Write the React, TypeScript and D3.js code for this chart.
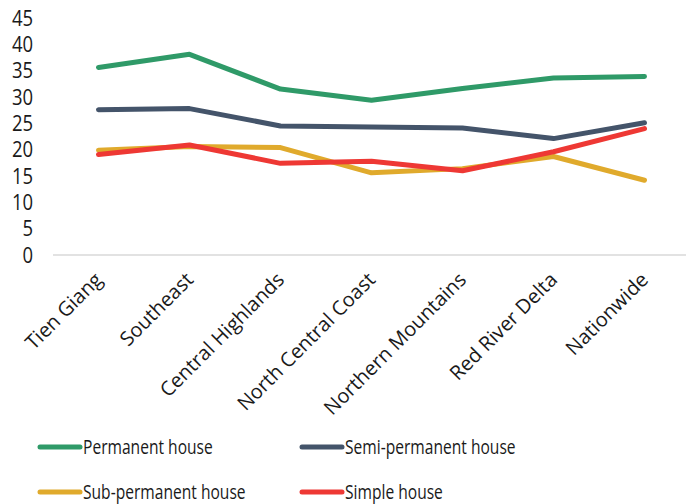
import React from "react";
import * as d3 from "d3";

const categories = [
  "Tien Giang",
  "Southeast",
  "Central Highlands",
  "North Central Coast",
  "Northern Mountains",
  "Red River Delta",
  "Nationwide",
];

const permanent = [35.6, 38.1, 31.5, 29.4, 31.6, 33.6, 33.9];
const semiPermanent = [27.6, 27.8, 24.5, 24.3, 24.1, 22.1, 25.1];
const subPermanent = [19.9, 20.6, 20.4, 15.6, 16.4, 18.7, 14.2];
const simple = [19.1, 20.9, 17.4, 17.8, 16.0, 19.6, 24.0];

const yTicks = [0, 5, 10, 15, 20, 25, 30, 35, 40, 45];

const series = [
  { name: "Permanent house", values: permanent, color: "#2f9a68" },
  { name: "Semi-permanent house", values: semiPermanent, color: "#44546a" },
  { name: "Sub-permanent house", values: subPermanent, color: "#e0aa2c" },
  { name: "Simple house", values: simple, color: "#ee3834" },
];

const W = 689;
const H = 504;
const plotLeft = 53;
const plotRight = 690;
const plotTop = 18;
const plotBottom = 255;

const font = "'Open Sans', sans-serif";

export default function App() {
  const x = d3
    .scaleBand<string>()
    .domain(categories)
    .range([plotLeft, plotRight]);
  const y = d3.scaleLinear().domain([0, 45]).range([plotBottom, plotTop]);

  const line = d3
    .line<number>()
    .x((_, i) => (x(categories[i]) as number) + x.bandwidth() / 2)
    .y((v) => y(v));

  const legendItems = [
    { s: series[0], lx: 40, ly: 447 },
    { s: series[1], lx: 302, ly: 447 },
    { s: series[2], lx: 40, ly: 492 },
    { s: series[3], lx: 302, ly: 492 },
  ];

  return (
    <svg
      width={W}
      height={H}
      style={{ position: "absolute", left: 0, top: 0, background: "#fff" }}
    >
      <line
        x1={plotLeft}
        x2={686}
        y1={y(0)}
        y2={y(0)}
        stroke="#d9d9d9"
        strokeWidth={1.5}
      />
      {yTicks.map((t) => (
        <text
          key={t}
          transform={`translate(33,${y(t)}) scale(0.88,1)`}
          dy="0.36em"
          textAnchor="end"
          fontFamily={font}
          fontSize={21}
          fill="#1a1a1a"
        >
          {t}
        </text>
      ))}
      {categories.map((c) => {
        const cx = (x(c) as number) + x.bandwidth() / 2 + 5;
        const cy = 281;
        return (
          <text
            key={c}
            transform={`translate(${cx},${cy}) rotate(-45)`}
            textAnchor="end"
            fontFamily={font}
            fontSize={20}
            fill="#1a1a1a"
          >
            {c}
          </text>
        );
      })}
      {series.map((s) => (
        <path
          key={s.name}
          d={line(s.values) || ""}
          fill="none"
          stroke={s.color}
          strokeWidth={5}
          strokeLinecap="round"
          strokeLinejoin="round"
        />
      ))}
      {legendItems.map(({ s, lx, ly }) => (
        <g key={s.name}>
          <line
            x1={lx}
            x2={lx + 40}
            y1={ly}
            y2={ly}
            stroke={s.color}
            strokeWidth={5}
            strokeLinecap="round"
          />
          <text
            transform={`translate(${lx + 43},${ly}) scale(0.78,1)`}
            dy="0.36em"
            fontFamily={font}
            fontSize={20}
            fill="#1a1a1a"
          >
            {s.name}
          </text>
        </g>
      ))}
    </svg>
  );
}
